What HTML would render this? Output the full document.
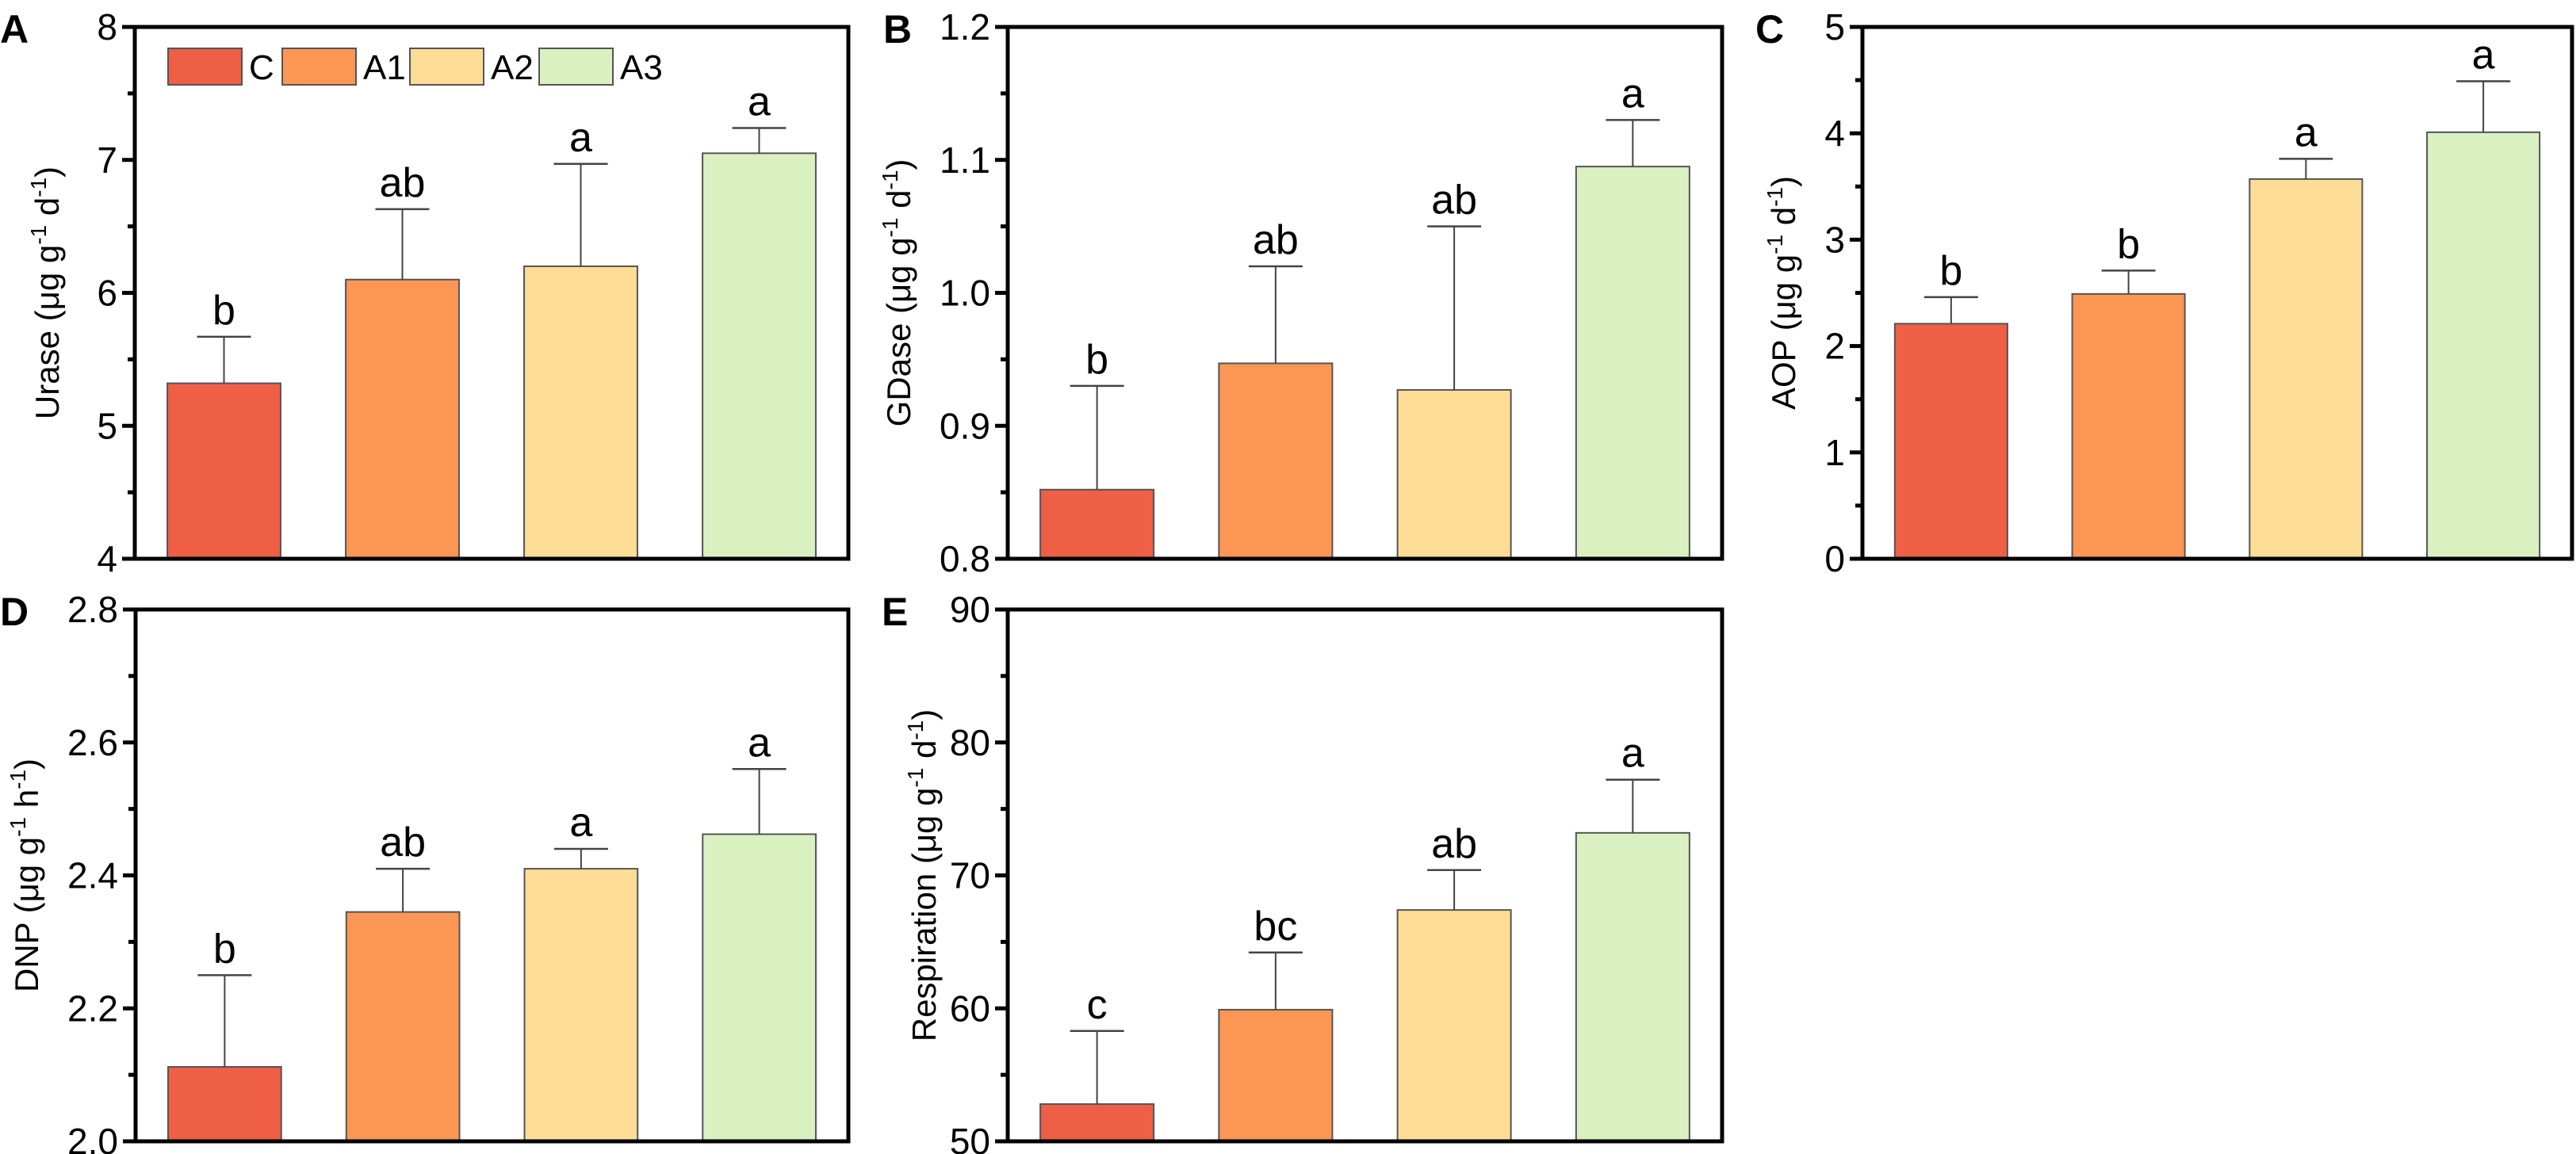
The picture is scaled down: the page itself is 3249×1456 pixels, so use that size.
<!DOCTYPE html>
<html><head><meta charset="utf-8"><style>
html,body{margin:0;padding:0;background:#fff;}
svg{display:block;}
text{font-family:"Liberation Sans",Arial,sans-serif;}
</style></head><body>
<svg id="fig" width="3249" height="1456" viewBox="0 0 3249 1456" xmlns="http://www.w3.org/2000/svg"></svg>
<script>
const categories = ["C","A1","A2","A3"];
const colors = ["#EE5F45","#FC9654","#FDDD96","#D9F0C0"];
const urase = [5.32,6.10,6.20,7.05];
const uraseErr = [5.67,6.63,6.97,7.24];
const uraseLetters = ["b","ab","a","a"];
const uraseTicks = ["4","5","6","7","8"];
const gdase = [0.852,0.947,0.927,1.095];
const gdaseErr = [0.930,1.020,1.050,1.130];
const gdaseLetters = ["b","ab","ab","a"];
const gdaseTicks = ["0.8","0.9","1.0","1.1","1.2"];
const aop = [2.21,2.49,3.57,4.01];
const aopErr = [2.46,2.71,3.76,4.49];
const aopLetters = ["b","b","a","a"];
const aopTicks = ["0","1","2","3","4","5"];
const dnp = [2.112,2.345,2.41,2.462];
const dnpErr = [2.25,2.41,2.44,2.56];
const dnpLetters = ["b","ab","a","a"];
const dnpTicks = ["2.0","2.2","2.4","2.6","2.8"];
const resp = [52.8,59.9,67.4,73.2];
const respErr = [58.3,64.2,70.4,77.2];
const respLetters = ["c","bc","ab","a"];
const respTicks = ["50","60","70","80","90"];

const NS="http://www.w3.org/2000/svg";
const svg=document.getElementById('fig');
function mk(tag,attrs,parent){const e=document.createElementNS(NS,tag);for(const k in attrs)e.setAttribute(k,attrs[k]);(parent||svg).appendChild(e);return e;}

function panel(o){
  const g=mk('g',{});
  
  
  const ticks=o.ticks.map(Number);
  const lo=ticks[0],hi=ticks[ticks.length-1];
  const y=v=>o.b-(v-lo)/(hi-lo)*(o.b-o.t);
  const band=(o.r-o.l)/categories.length;
  const x=i=>o.l+band*(i+0.5);
  const bw=band*0.635;
  // bars
  categories.forEach((c,i)=>{
    const v=o.vals[i];
    const r=mk('rect',{x:x(i)-bw/2,y:y(v),width:bw,height:o.b-y(v),fill:colors[i],stroke:'#555',"stroke-width":2},g);
    
    
    const e=o.err[i];
    const l=mk('line',{x1:x(i),x2:x(i),y1:y(v),y2:y(e),stroke:'#444',"stroke-width":2},g);
    
    
    mk('line',{x1:x(i)-34,x2:x(i)+34,y1:y(e),y2:y(e),stroke:'#444',"stroke-width":2.5},g);
    const t=mk('text',{x:x(i),y:y(e)-16,"text-anchor":'middle',"font-size":52},g);
    t.textContent=o.letters[i];
    
    
  });
  // frame
  const f=mk('rect',{x:o.l,y:o.t,width:o.r-o.l,height:o.b-o.t,fill:'none',stroke:'#000',"stroke-width":5},g);
  
  
  // ticks
  ticks.forEach((tv,k)=>{
    mk('line',{x1:o.l-16,x2:o.l,y1:y(tv),y2:y(tv),stroke:'#000',"stroke-width":5},g);
    const t=mk('text',{x:o.l-22,y:y(tv)+16,"text-anchor":'end',"font-size":46,style:'font-family:"Liberation Sans Narrow","Liberation Sans",sans-serif'},g);
    t.textContent=o.ticks[k];
    
    
    if(k<ticks.length-1){const m=(tv+ticks[k+1])/2;mk('line',{x1:o.l-9,x2:o.l,y1:y(m),y2:y(m),stroke:'#000',"stroke-width":5},g);}
  });
  // title
  const cy=(o.t+o.b)/2;
  const tt=mk('text',{x:o.tx,y:cy,"text-anchor":'middle',"font-size":42,transform:`rotate(-90 ${o.tx} ${cy})`,dy:14},g);
  
  
  tt.innerHTML=o.title+' (μg g<tspan dy="-16" font-size="28">-1</tspan><tspan dy="16"> '+o.unit+'</tspan><tspan dy="-16" font-size="28">-1</tspan><tspan dy="16">)</tspan>';
  const pl=mk('text',{x:o.lx,y:o.t+20,"font-size":50,"font-weight":'bold'},g);
  pl.textContent=o.id;
  
  
  return g;
}
panel({id:'A',l:170,r:1070,t:34,b:705,vals:urase,err:uraseErr,letters:uraseLetters,ticks:uraseTicks,title:'Urase',unit:'d',tx:60,lx:0});
panel({id:'B',l:1271,r:2172,t:34,b:705,vals:gdase,err:gdaseErr,letters:gdaseLetters,ticks:gdaseTicks,title:'GDase',unit:'d',tx:1134,lx:1114});
panel({id:'C',l:2349,r:3244,t:34,b:705,vals:aop,err:aopErr,letters:aopLetters,ticks:aopTicks,title:'AOP',unit:'d',tx:2250,lx:2214});
panel({id:'D',l:171,r:1070,t:769,b:1440,vals:dnp,err:dnpErr,letters:dnpLetters,ticks:dnpTicks,title:'DNP',unit:'h',tx:34,lx:0});
panel({id:'E',l:1271,r:2172,t:769,b:1440,vals:resp,err:respErr,letters:respLetters,ticks:respTicks,title:'Respiration',unit:'d',tx:1166,lx:1112});

// legend
const lg=mk('g',{});


const lx=[212,356,517,680];
categories.forEach((c,i)=>{
  const r=mk('rect',{x:lx[i],y:61,width:93,height:46,fill:colors[i],stroke:'#555',"stroke-width":2},lg);
  
  
  const t=mk('text',{x:lx[i]+102,y:100,"font-size":44,style:'font-family:"Liberation Sans Narrow","Liberation Sans",sans-serif'},lg);
  t.textContent=c;
  
  
});
</script>
</body></html>
